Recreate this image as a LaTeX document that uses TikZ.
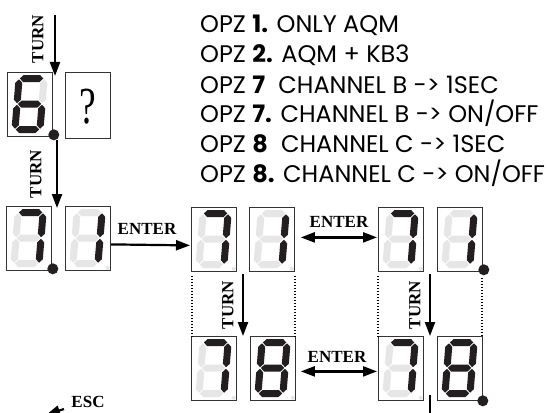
\documentclass[tikz,border=0pt]{standalone}
\usepackage{fontspec}
\newfontfamily\opz{Poppins}
\newfontfamily\tms{Liberation Serif}
\usetikzlibrary{arrows.meta}
\definecolor{segdark}{HTML}{231F20}
\definecolor{seglight}{HTML}{E6E6E6}
\tikzset{
 dbox/.style={draw=black!80, line width=0.8pt, minimum width=45pt, minimum height=64pt, inner sep=0pt, anchor=north west},
 segd/.style={fill=segdark},
 segl/.style={fill=seglight},
 arr/.style={line width=2.2pt, -{Triangle[length=14pt,width=10pt]}},
 darr/.style={line width=2.2pt, {Triangle[length=14pt,width=10pt]}-{Triangle[length=14pt,width=10pt]}},
 lbl/.style={font=\tms\bfseries\fontsize{17}{17}\selectfont, inner sep=0pt},
 opzline/.style={font=\opz\fontsize{24}{24}\selectfont, anchor=base west, inner sep=0pt},
 dotv/.style={line width=1.5pt, dash pattern=on 1.2pt off 1.8pt},
 bigdot/.style={fill=segdark, circle, minimum size=11pt, inner sep=0pt},
 smalldot/.style={fill=seglight, circle, minimum size=4pt, inner sep=0pt},
}
\newcommand\hseg[4]{\fill[#1] (#2+0.8,#4) -- (#2+4.3,#4-3.5) -- (#3-4.3,#4-3.5) -- (#3-0.8,#4) -- (#3-4.3,#4+3.5) -- (#2+4.3,#4+3.5) -- cycle;}
\newcommand\vseg[4]{\fill[#1] (#2,#3+0.8) -- (#2+3.5,#3+4.3) -- (#2+3.5,#4-4.3) -- (#2,#4-0.8) -- (#2-3.5,#4-4.3) -- (#2-3.5,#3+4.3) -- cycle;}
\newcommand\sevseg[8]{%
 \begin{scope}[shift={(#1.north west)}, xshift=2.6pt, xslant=0.08]
  \hseg{seg#2}{10}{35}{6.5}
  \vseg{seg#3}{35}{6.5}{32}
  \vseg{seg#4}{35}{32}{57.5}
  \hseg{seg#5}{10}{35}{57.5}
  \vseg{seg#6}{10}{32}{57.5}
  \vseg{seg#7}{10}{6.5}{32}
  \hseg{seg#8}{10}{35}{32}
 \end{scope}}
\begin{document}
\begin{tikzpicture}[x=1pt,y=-1pt]
\useasboundingbox[fill=white] (0,0) rectangle (551,412);
% text block
\node[opzline] (l1) at (200,33) {OPZ \textbf{1.} ONLY AQM};
\node[opzline] (l2) at (200,63) {OPZ \textbf{2.} AQM + KB3};
\node[opzline] (l3) at (200,93) {OPZ \textbf{7}\phantom{\textbf{.}} CHANNEL B -> 1SEC};
\node[opzline] (l4) at (200,122) {OPZ \textbf{7.} CHANNEL B -> ON/OFF};
\node[opzline] (l5) at (200,152) {OPZ \textbf{8}\phantom{\textbf{.}} CHANNEL C -> 1SEC};
\node[opzline] (l6) at (200,182) {OPZ \textbf{8.} CHANNEL C -> ON/OFF};
% boxes
\node[dbox] (b6) at (7,72) {};
\node[dbox, minimum height=66pt] (q) at (65,72) {};
\node[font=\tms\fontsize{52}{52}\selectfont, xscale=0.72, inner sep=0pt] (qm) at ([yshift=-1pt]q.center) {?};
\node[dbox] (r2a) at (6,206) {};
\node[dbox] (r2b) at (65,206) {};
\node[dbox] (m1a) at (191,207) {};
\node[dbox] (m1b) at (249,207) {};
\node[dbox] (n1a) at (378,207) {};
\node[dbox] (n1b) at (437,207) {};
\node[dbox] (m2a) at (191,336) {};
\node[dbox] (m2b) at (250,336) {};
\node[dbox] (n2a) at (378,336) {};
\node[dbox] (n2b) at (437,336) {};
% digits
\sevseg{b6}{d}{l}{d}{d}{d}{d}{d}
\sevseg{r2a}{d}{d}{d}{l}{l}{l}{l}
\sevseg{r2b}{l}{d}{d}{l}{l}{l}{l}
\sevseg{m1a}{d}{d}{d}{l}{l}{l}{l}
\sevseg{m1b}{l}{d}{d}{l}{l}{l}{l}
\sevseg{n1a}{d}{d}{d}{l}{l}{l}{l}
\sevseg{n1b}{l}{d}{d}{l}{l}{l}{l}
\sevseg{m2a}{d}{d}{d}{l}{l}{l}{l}
\sevseg{m2b}{d}{d}{d}{d}{d}{d}{d}
\sevseg{n2a}{d}{d}{d}{l}{l}{l}{l}
\sevseg{n2b}{d}{d}{d}{d}{d}{d}{d}
% dots
\node[bigdot] (d1) at ([xshift=1pt,yshift=2pt]b6.south east) {};
\node[bigdot] (d2) at ([xshift=1pt,yshift=2pt]r2a.south east) {};
\node[bigdot] (d3) at ([xshift=1pt,yshift=2pt]n1b.south east) {};
\node[bigdot] (d4) at ([xshift=0pt,yshift=0pt]n2b.south east) {};
\foreach \b in {r2b,m1a,m1b,n1a,m2a,m2b,n2a}
  \node[smalldot] at ([xshift=-3pt,yshift=3pt]\b.south east) {};
% TURN arrows
\coordinate (t1s) at (55,15); \coordinate (t1e) at (55,76);
\draw[arr] (t1s) -- (t1e);
\node[lbl, rotate=90] (turn1) at (38,39) {TURN};
\coordinate (t2s) at (57,140); \coordinate (t2e) at (57,208);
\draw[arr] (t2s) -- (t2e);
\node[lbl, rotate=90] (turn2) at (36,174) {TURN};
\coordinate (t3s) at (243,274); \coordinate (t3e) at (243,336);
\draw[arr] (t3s) -- (t3e);
\node[lbl, rotate=90] (turn3) at (228,305) {TURN};
\coordinate (t4s) at (430,274); \coordinate (t4e) at (430,336);
\draw[arr] (t4s) -- (t4e);
\node[lbl, rotate=90] (turn4) at (415,305) {TURN};
% ENTER arrows
\draw[arr] ([yshift=-6pt]r2b.east) -- ([yshift=-6pt,xshift=-1pt]m1a.west);
\node[lbl] (ent1) at (147,229) {ENTER};
\draw[darr] ([yshift=2pt,xshift=6pt]m1b.east) -- ([yshift=2pt,xshift=-1pt]n1a.west);
\node[lbl] (ent2) at (339,222) {ENTER};
\draw[darr] ([yshift=-3pt,xshift=5pt]m2b.east) -- ([yshift=-3pt,xshift=-1pt]n2a.west);
\node[lbl] (ent3) at (337,357) {ENTER};
% dotted guides
\draw[dotv] ([yshift=-4pt,xshift=1pt]m1a.south west) -- ([xshift=1pt]m2a.north west);
\draw[dotv] ([yshift=-4pt]m1b.south east) -- ([xshift=-1pt]m2b.north east);
\draw[dotv] ([yshift=-4pt]n1a.south west) -- (n2a.north west);
\draw[dotv] ([yshift=-6pt,xshift=-1pt]n1b.south east) -- ([xshift=-1pt]n2b.north east);
% bottom bits
\coordinate (bl1) at (430,395); \coordinate (bl2) at (430,414);
\draw[line width=2.2pt] (bl1) -- (bl2);
\node[lbl] (esc) at (88,402) {ESC};
\coordinate (es1) at (64,409); \coordinate (es2) at (46,415);
\draw[arr] (es1) -- (es2);
\end{tikzpicture}
\end{document}
